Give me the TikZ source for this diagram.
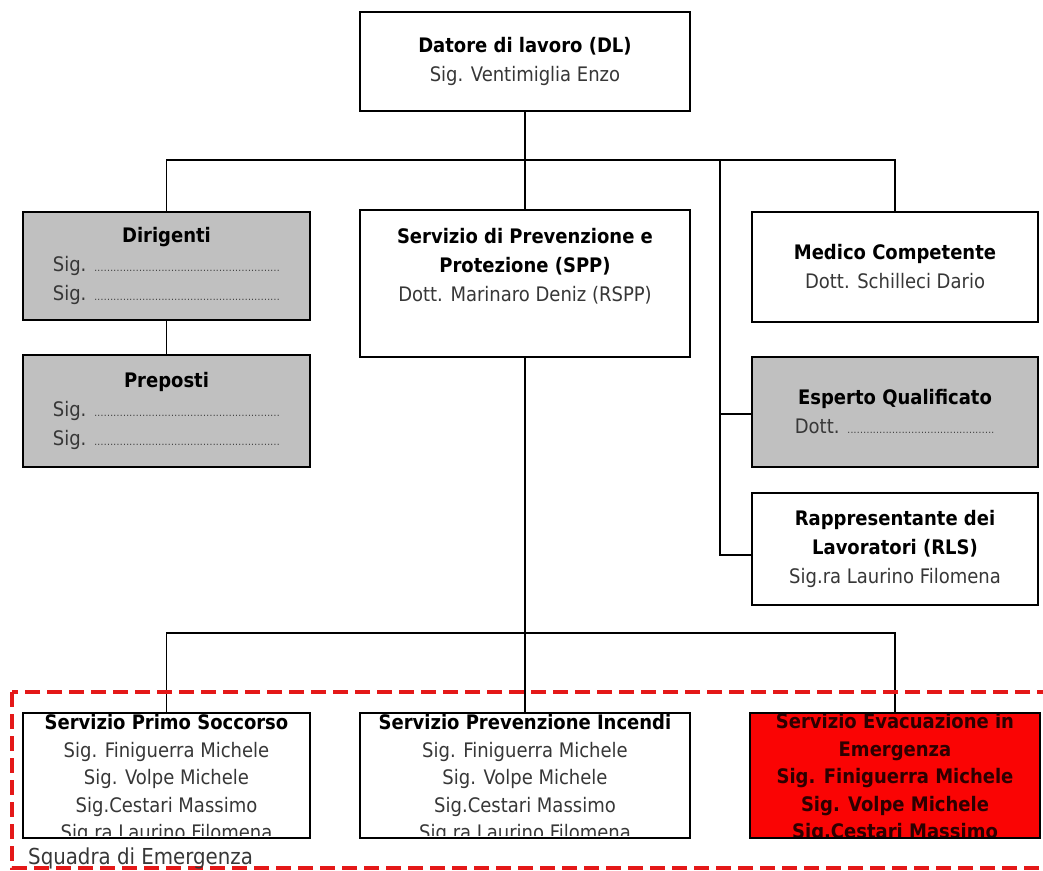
\documentclass[tikz,border=0pt]{standalone}
\usepackage{fontspec}
\setmainfont{DejaVu Sans Condensed}
\usetikzlibrary{positioning}
\definecolor{grigio}{RGB}{192,192,192}
\definecolor{rosso}{RGB}{250,4,4}
\definecolor{tratteggio}{RGB}{228,24,24}
\definecolor{testo}{RGB}{55,55,55}
\newcommand{\titolo}[1]{{\bfseries\color{black}#1}}
\newcommand{\puntini}[1]{\makebox[#1]{\fontsize{10}{10}\selectfont\leaders\hbox to 3.2pt{\hss.\hss}\hfill}}
\tikzset{
  box/.style={draw=black, line width=2.2, fill=white, align=center, inner sep=0pt,
    text=testo, font=\fontsize{20}{29}\selectfont},
  greybox/.style={box, fill=grigio},
  redbox/.style={box, fill=rosso},
  testobox/.style={align=center, inner sep=0pt, text=testo, font=\fontsize{20}{27.5}\selectfont},
  linea/.style={line width=1.8, draw=black},
}
\begin{document}
\begin{tikzpicture}[x=1pt,y=-1pt]
\useasboundingbox (0,0) rectangle (1043,870);
% vertici
\node[box, minimum width=330, minimum height=99] (dl) at (525,61.5)
  {\titolo{Datore di lavoro (DL)}\\Sig. Ventimiglia Enzo};
\node[box, minimum width=330, minimum height=147] (spp) at (525,283.5)
  {\titolo{Servizio di Prevenzione e}\\\titolo{Protezione (SPP)}\\Dott. Marinaro Deniz (RSPP)\\ \strut};
\node[greybox, minimum width=287, minimum height=108] (dirigenti) at (166.5,266)
  {\titolo{Dirigenti}\\Sig. \puntini{186pt}\\Sig. \puntini{186pt}};
\node[greybox, minimum width=287, minimum height=112] (preposti) at (166.5,411)
  {\titolo{Preposti}\\Sig. \puntini{186pt}\\Sig. \puntini{186pt}};
\node[box, minimum width=286, minimum height=110] (medico) at (895,267)
  {\titolo{Medico Competente}\\Dott. Schilleci Dario};
\node[greybox, minimum width=286, minimum height=110] (esperto) at (895,412)
  {\titolo{Esperto Qualificato}\\Dott. \puntini{148pt}};
\node[box, minimum width=286, minimum height=112] (rls) at (895,549)
  {\titolo{Rappresentante dei}\\\titolo{Lavoratori (RLS)}\\Sig.ra Laurino Filomena};
% squadra di emergenza
\node[box, minimum width=287, minimum height=125] (soccorso) at (166.5,775.5) {};
\node[box, minimum width=330, minimum height=125] (incendi) at (525,775.5) {};
\node[redbox, minimum width=290, minimum height=125] (evacuazione) at (895,775.5) {};
\begin{scope}
  \clip (24,714) rectangle (309,835);
  \node[testobox] (soccorsotxt) at (166.5,779) {\titolo{Servizio Primo Soccorso}\\Sig. Finiguerra Michele\\Sig. Volpe Michele\\Sig.Cestari Massimo\\Sig.ra Laurino Filomena};
\end{scope}
\begin{scope}
  \clip (361,714) rectangle (689,835);
  \node[testobox] (incenditxt) at (525,779) {\titolo{Servizio Prevenzione Incendi}\\Sig. Finiguerra Michele\\Sig. Volpe Michele\\Sig.Cestari Massimo\\Sig.ra Laurino Filomena};
\end{scope}
\begin{scope}
  \clip (751,714) rectangle (1039,836);
  \node[testobox, text={rgb,255:red,45;green,0;blue,0}, font=\fontsize{20}{27.5}\selectfont\bfseries] (evacuazionetxt) at (895,778.5)
    {Servizio Evacuazione in\\Emergenza\\Sig. Finiguerra Michele\\Sig. Volpe Michele\\Sig.Cestari Massimo};
\end{scope}
% collegamenti
\coordinate (bus1) at (525,160);
\coordinate (bus2) at (720,160);
\coordinate (bus3) at (525,633);
\draw[linea] (dl.south) -- (spp.north);
\draw[linea] (dirigenti.north) |- (bus1) -| (medico.north);
\draw[linea] (dirigenti.south) -- (preposti.north);
\draw[linea] (bus2) |- ([yshift=-6]rls.west);
\draw[linea] ([yshift=-2]esperto.west) -- ([yshift=-2]esperto.west -| bus2);
\draw[linea] (spp.south) -- (bus3);
\draw[linea] (soccorso.north) |- (bus3) -| (evacuazione.north);
\draw[linea] (bus3) -- (incendi.north);
\draw[draw=tratteggio, line width=4, dash pattern=on 15pt off 7pt] (12,692) rectangle (1060,868);
\node[anchor=base west, inner sep=0pt, text=testo, font=\fontsize{22}{22}\selectfont] (squadra) at (28,864) {Squadra di Emergenza};
\end{tikzpicture}
\end{document}
